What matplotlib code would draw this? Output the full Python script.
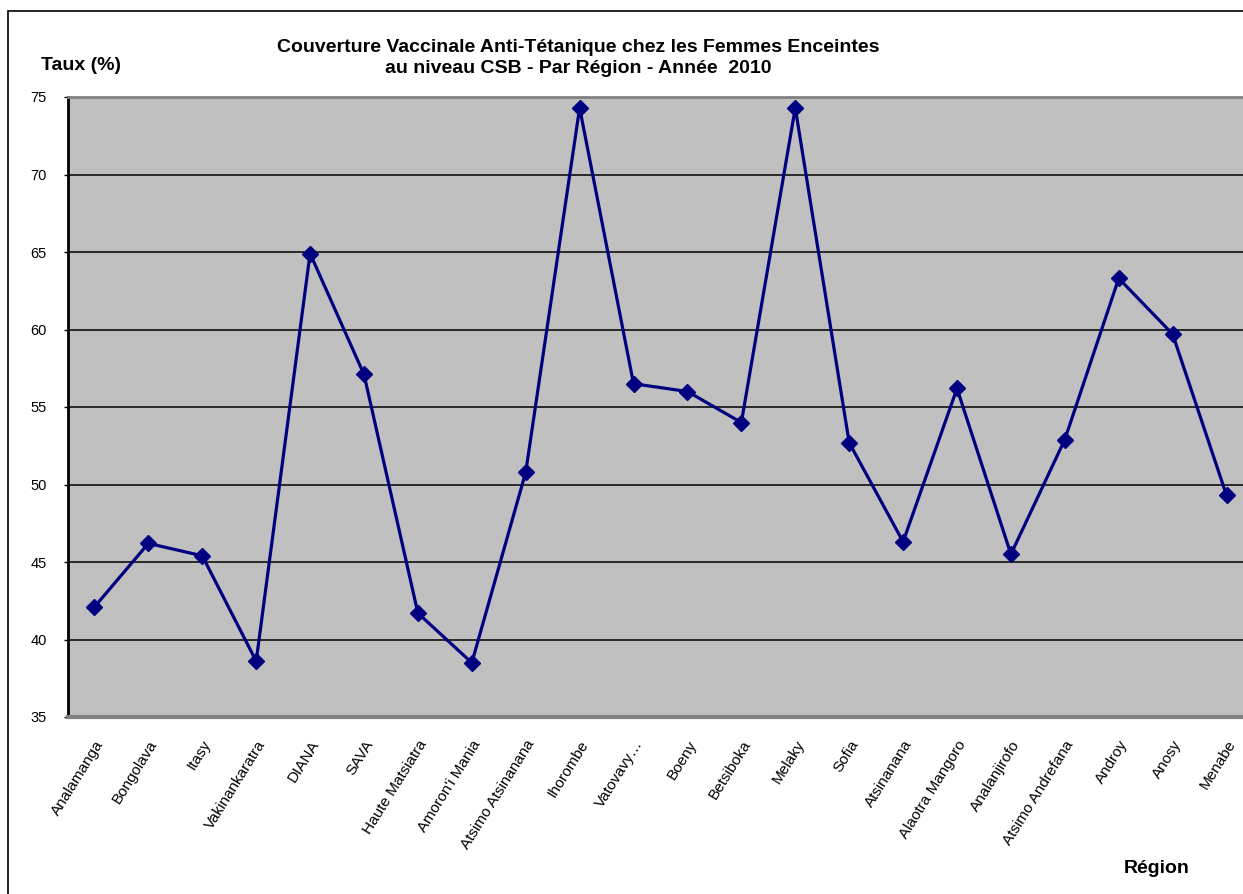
import matplotlib.pyplot as plt
from matplotlib.patches import Rectangle

regions = ["Analamanga", "Bongolava", "Itasy", "Vakinankaratra", "DIANA", "SAVA",
           "Haute Matsiatra", "Amoron'i Mania", "Atsimo Atsinanana", "Ihorombe",
           "Vatovavy…", "Boeny", "Betsiboka", "Melaky", "Sofia", "Atsinanana",
           "Alaotra Mangoro", "Analanjirofo", "Atsimo Andrefana", "Androy", "Anosy",
           "Menabe"]
taux = [42.1, 46.2, 45.4, 38.6, 64.9, 57.1, 41.7, 38.5, 50.8, 74.3, 56.5,
        56.0, 54.0, 74.3, 52.7, 46.3, 56.2, 45.5, 52.9, 63.3, 59.7, 49.3]
yticks = [35, 40, 45, 50, 55, 60, 65, 70, 75]

plt.rcParams['font.family'] = ['Liberation Sans', 'DejaVu Sans']

fig = plt.figure(figsize=(12.43, 8.94), dpi=100)

# outer chart border
fig.patches.append(Rectangle((8 / 1243, -0.05), 1.0, 1 - 11 / 894 + 0.05,
                             transform=fig.transFigure, fill=False,
                             edgecolor='black', linewidth=1.2))

ax = fig.add_axes([67.5 / 1243, 1 - 717 / 894, 1186 / 1243, 620 / 894])
ax.set_facecolor('#C0C0C0')

x = list(range(len(regions)))
ax.plot(x, taux, color='#000080', linewidth=2.3, marker='D', markersize=8.5,
        zorder=3)

ax.set_xlim(-0.5, len(regions) - 0.5)
ax.set_ylim(35, 75)
ax.set_yticks(yticks)
ax.set_yticklabels([str(v) for v in yticks], fontsize=10.5)
for v in yticks[1:-1]:
    ax.axhline(v, color='black', linewidth=1.1, zorder=1)

ax.set_xticks(x)
ax.set_xticklabels(regions, rotation=58, ha='right', rotation_mode='anchor',
                   fontsize=11)
ax.tick_params(axis='x', length=0, pad=15)
ax.tick_params(axis='y', length=3, width=1, direction='out', pad=12)

ax.spines['left'].set_color('black')
ax.spines['left'].set_linewidth(2)
ax.spines['top'].set_color('#808080')
ax.spines['top'].set_linewidth(2)
ax.spines['bottom'].set_color('#808080')
ax.spines['bottom'].set_linewidth(3)
ax.spines['right'].set_visible(False)

fig.text(578 / 1243, 1 - 52 / 894,
         "Couverture Vaccinale Anti-Tétanique chez les Femmes Enceintes",
         ha='center', va='baseline', fontsize=14, fontweight='bold')
fig.text(578 / 1243, 1 - 73 / 894,
         "au niveau CSB - Par Région - Année  2010",
         ha='center', va='baseline', fontsize=14, fontweight='bold')
fig.text(41 / 1243, 1 - 70 / 894, "Taux (%)", ha='left', va='baseline',
         fontsize=14, fontweight='bold')
fig.text(1157 / 1243, 1 - 873 / 894, "Région", ha='center', va='baseline',
         fontsize=14, fontweight='bold')

fig.savefig('out.png', dpi=100)
